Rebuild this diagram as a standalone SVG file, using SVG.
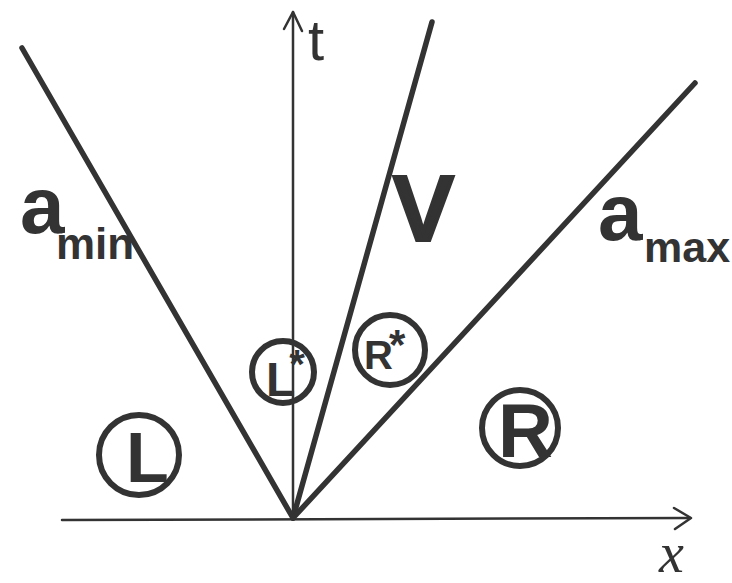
<svg xmlns="http://www.w3.org/2000/svg" width="732" height="583" viewBox="0 0 732 583">
<style>
.ln{stroke:#333;stroke-width:5.5;stroke-linecap:round;fill:none}
.ax{stroke:#333;stroke-width:2.5;stroke-linecap:round;stroke-linejoin:round;fill:none}
.ring{stroke:#333;stroke-width:6;fill:none}
.lbl{font-family:"Liberation Sans",Arial,sans-serif;font-weight:bold;fill:#333}
.thin{font-family:"Liberation Sans",Arial,sans-serif;fill:#333}
</style>
<rect width="732" height="583" fill="#fff"/>
<g id="connectors">
  <g id="x-axis">
    <line class="ax" x1="62" y1="520" x2="690" y2="518"/>
    <polyline class="ax" points="674,508 691,518 675,529"/>
  </g>
  <g id="t-axis">
    <line class="ax" x1="293" y1="518" x2="293" y2="12"/>
    <polyline class="ax" points="284,29 293,12 302,31"/>
  </g>
  <line id="amin-line" class="ln" x1="22" y1="48" x2="293" y2="518"/>
  <line id="v-line" class="ln" x1="432" y1="22" x2="293" y2="518"/>
  <line id="amax-line" class="ln" x1="695" y1="83" x2="293" y2="518"/>
</g>
<g id="axis-labels">
  <text class="thin" x="308" y="60" font-size="58">t</text>
  <text x="659" y="572" font-family="'Liberation Serif',serif" font-style="italic" font-size="56" fill="#333">x</text>
</g>
<g id="label-amin">
  <text class="lbl" x="20" y="233" font-size="80">a</text>
  <text class="lbl" x="56" y="259" font-size="44">min</text>
</g>
<g id="label-v">
  <text class="thin" x="394" y="240" font-size="118" stroke="#333" stroke-width="4">v</text>
</g>
<g id="label-amax">
  <text class="lbl" x="598" y="240" font-size="80">a</text>
  <text class="lbl" x="644" y="262" font-size="43">max</text>
</g>
<g id="node-L">
  <circle class="ring" cx="139" cy="455" r="40"/>
  <text class="lbl" x="126" y="482" font-size="70">L</text>
</g>
<g id="node-Lstar">
  <circle class="ring" cx="283" cy="372" r="31"/>
  <text class="lbl" x="266" y="396" font-size="48">L<tspan dx="-6" dy="-18" font-size="40">*</tspan></text>
</g>
<g id="node-Rstar">
  <circle class="ring" cx="390" cy="350" r="35"/>
  <text class="lbl" x="364" y="369" font-size="40">R<tspan dx="-4" dy="-10" font-size="42">*</tspan></text>
</g>
<g id="node-R">
  <circle class="ring" cx="520" cy="428" r="38"/>
  <text class="lbl" x="498" y="457" font-size="76">R</text>
</g>
</svg>
